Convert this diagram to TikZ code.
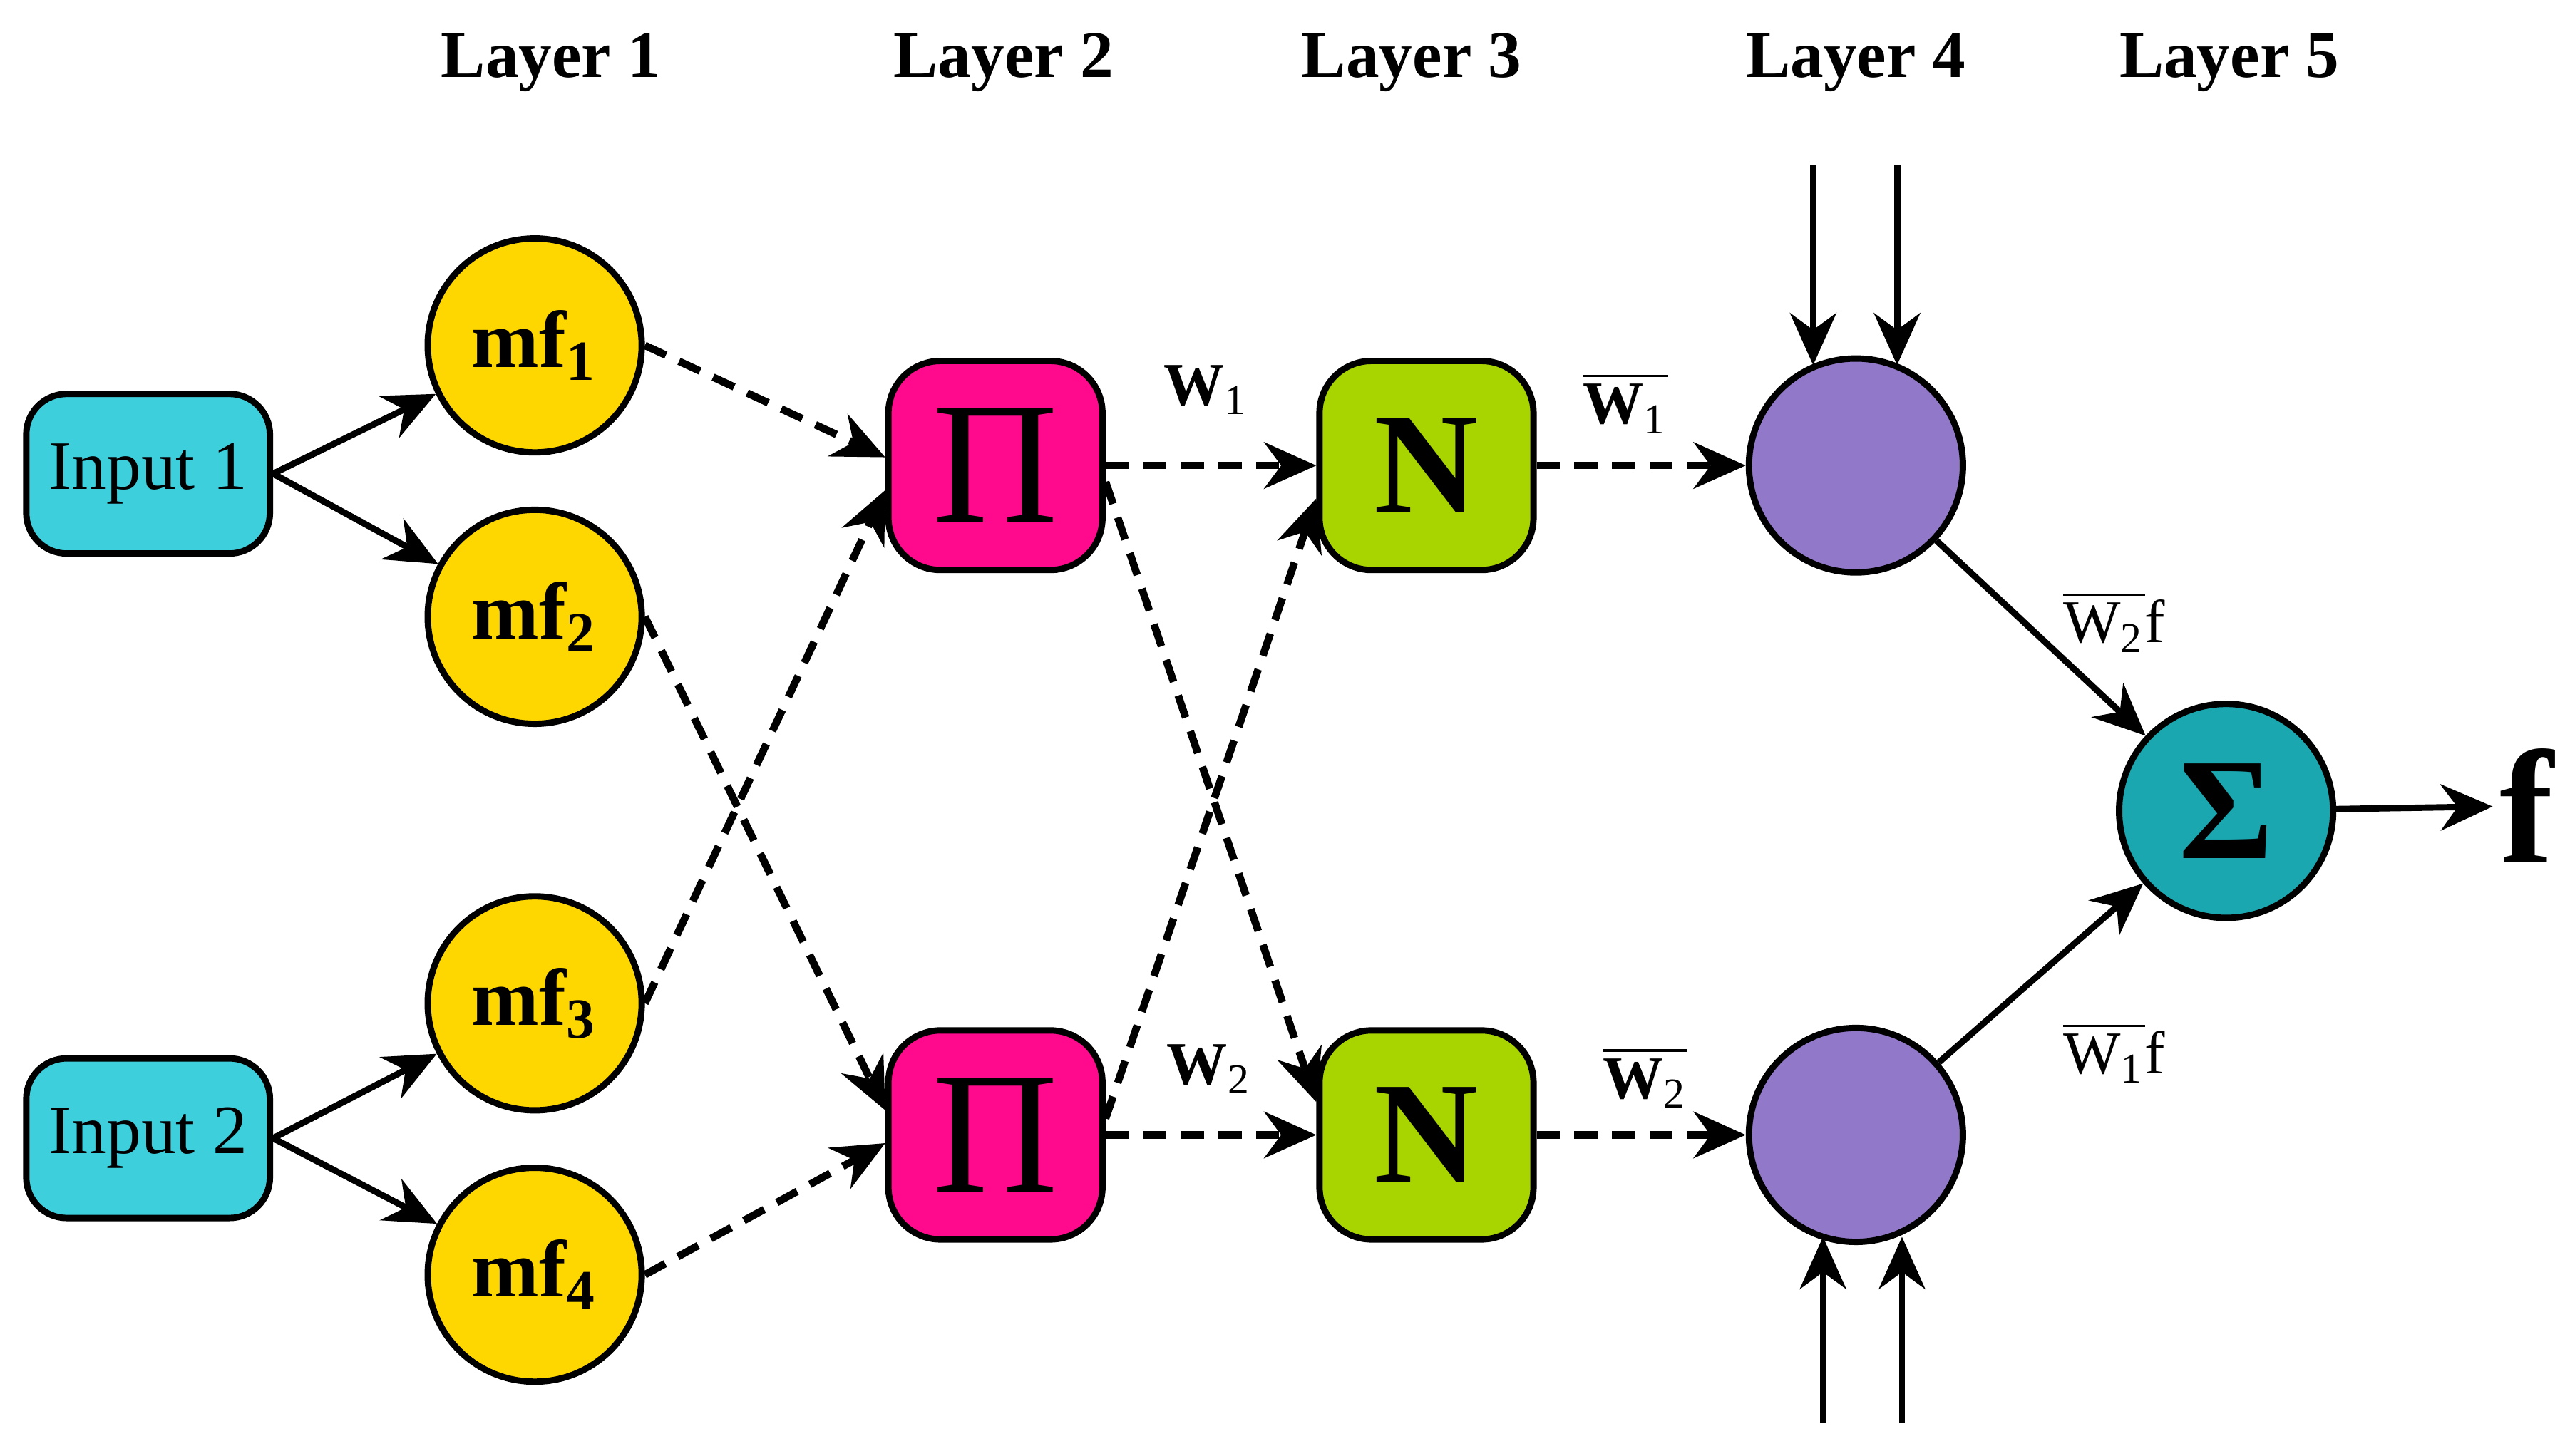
\documentclass[tikz,border=0pt]{standalone}
\usepackage{fontspec}
\setmainfont{Liberation Serif}
\usetikzlibrary{arrows.meta}
\definecolor{cin}{HTML}{3ECFDD}
\definecolor{cmf}{HTML}{FFD700}
\definecolor{cpi}{HTML}{FF0A8C}
\definecolor{cn}{HTML}{A8D400}
\definecolor{cl4}{HTML}{9178C8}
\definecolor{csum}{HTML}{1AA7B0}
\begin{document}
\begin{tikzpicture}[x=0.01cm,y=-0.01cm,
  every node/.style={font=\fontsize{12}{14}\selectfont},
  inp/.style={draw,line width=1.1pt,fill=cin,rounded corners=7pt,minimum width=1.48cm,minimum height=0.97cm,inner sep=0pt},
  mf/.style={draw,line width=1.1pt,fill=cmf,circle,minimum size=1.3cm,inner sep=0pt,font=\fontsize{14}{16}\selectfont\bfseries},
  sq/.style={draw,line width=1.1pt,rounded corners=9pt,minimum width=1.3cm,minimum height=1.27cm,inner sep=0pt},
  cl/.style={draw,line width=1.1pt,circle,minimum size=1.3cm,inner sep=0pt},
  lay/.style={font=\fontsize{11.5}{13}\selectfont\bfseries},
  da/.style={line width=1.3pt,dashed,dash pattern=on 4pt off 2.5pt,-{Stealth[length=9pt,width=8pt]}},
  sa/.style={line width=1.1pt,-{Stealth[length=9pt,width=8pt]}},
  lb/.style={font=\fontsize{10.5}{12}\selectfont}]
\useasboundingbox (0,0) rectangle (1562,885);
\node[lay] (t1) at (335,38) {Layer 1};
\node[lay] (t2) at (610,38) {Layer 2};
\node[lay] (t3) at (858,38) {Layer 3};
\node[lay] (t4) at (1128,38) {Layer 4};
\node[lay] (t5) at (1355,38) {Layer 5};
\node[inp] (i1) at (90,288) {Input 1};
\node[inp] (i2) at (90,692) {Input 2};
\node[mf] (m1) at (325,210) {mf\textsubscript{1}};
\node[mf] (m2) at (325,375) {mf\textsubscript{2}};
\node[mf] (m3) at (325,610) {mf\textsubscript{3}};
\node[mf] (m4) at (325,775) {mf\textsubscript{4}};
\node[sq,fill=cpi,font=\fontsize{30}{30}\selectfont] (p1) at (605,283) {Π};
\node[sq,fill=cpi,font=\fontsize{30}{30}\selectfont] (p2) at (605,690) {Π};
\node[sq,fill=cn,font=\fontsize{25}{25}\selectfont\bfseries] (n1) at (867,283) {N};
\node[sq,fill=cn,font=\fontsize{25}{25}\selectfont\bfseries] (n2) at (867,690) {N};
\node[cl,fill=cl4] (a1) at (1128,283) {};
\node[cl,fill=cl4] (a2) at (1128,690) {};
\node[cl,fill=csum,font=\fontsize{25}{25}\selectfont\bfseries] (s) at (1353,493) {Σ};
\node[font=\fontsize{28}{28}\selectfont\bfseries,anchor=west,inner sep=1pt] (f) at (1515,490) {f};
\draw[sa] (i1.east) -- (m1);
\draw[sa] (i1.east) -- (m2);
\draw[sa] (i2.east) -- (m3);
\draw[sa] (i2.east) -- (m4);
\draw[da] (m1.east) -- ([yshift=0.05cm]p1.west);
\draw[da] (m3.east) -- ([yshift=-0.15cm]p1.west);
\draw[da] (m2.east) -- ([yshift=0.15cm]p2.west);
\draw[da] (m4.east) -- ([yshift=-0.05cm]p2.west);
\draw[da] (p1) -- (n1);
\draw[da] (p2) -- (n2);
\draw[da] ([yshift=-0.1cm]p1.east) -- ([yshift=0.2cm]n2.west);
\draw[da] ([yshift=0.1cm]p2.east) -- ([yshift=-0.2cm]n1.west);
\draw[da] (n1) -- (a1);
\draw[da] (n2) -- (a2);
\draw[sa] (a1) -- (s);
\draw[sa] (a2) -- (s);
\draw[sa] (s) -- (f);
\coordinate (u1) at (1102,100); \coordinate (u2) at (1153,100);
\coordinate (d1) at (1108,865); \coordinate (d2) at (1156,865);
\draw[sa] (u1) -- (1102,222);
\draw[sa] (u2) -- (1153,222);
\draw[sa] (d1) -- (1108,752);
\draw[sa] (d2) -- (1156,752);
\node[lb] (w1) at (733,237) {\textbf{W}\textsubscript{1}};
\node[lb] (w2) at (735,650) {\textbf{W}\textsubscript{2}};
\node[lb] (wb1) at (988,245) {$\overline{\mbox{\textbf{W}\textsubscript{1}}}$};
\node[lb] (wb2) at (1000,655) {$\overline{\mbox{\textbf{W}\textsubscript{2}}}$};
\node[lb] (wf2) at (1285,378) {$\overline{\mbox{W\textsubscript{2}}}$f};
\node[lb] (wf1) at (1285,640) {$\overline{\mbox{W\textsubscript{1}}}$f};
\end{tikzpicture}
\end{document}
